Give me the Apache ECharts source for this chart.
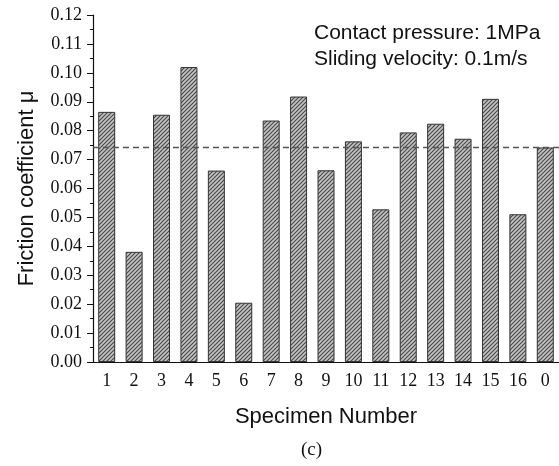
<!DOCTYPE html>
<html>
<head>
<meta charset="utf-8">
<script src="https://cdn.jsdelivr.net/npm/echarts@6/dist/echarts.min.js"></script>
<style>
  html, body { margin: 0; padding: 0; background: #fff; }
  #chart { width: 559px; height: 466px; }
</style>
</head>
<body>
<div id="chart"></div>
<script>
const specimens = ['1', '2', '3', '4', '5', '6', '7', '8', '9', '10', '11', '12', '13', '14', '15', '16', '0'];
const friction = [0.0865, 0.0381, 0.0855, 0.1020, 0.0662, 0.0205, 0.0835, 0.0918, 0.0663, 0.0763,
  0.0528, 0.0794, 0.0824, 0.0772, 0.0910, 0.0511, 0.0742];
const meanLine = 0.0742;
const yTicks = [0, 0.12, 0.01]; // min, max, interval
const noteLines = ['Contact pressure: 1MPa', 'Sliding velocity: 0.1m/s'];

// hatch pattern for the bars (////)
function makeHatch() {
  const c = document.createElement('canvas');
  c.width = 4;
  c.height = 4;
  const ctx = c.getContext('2d');
  ctx.fillStyle = '#c4c4c4';
  ctx.fillRect(0, 0, 4, 4);
  ctx.strokeStyle = '#4a4a4a';
  ctx.lineWidth = 1.2;
  ctx.beginPath();
  ctx.moveTo(0, 4);
  ctx.lineTo(4, 0);
  ctx.moveTo(-1, 1);
  ctx.lineTo(1, -1);
  ctx.moveTo(3, 5);
  ctx.lineTo(5, 3);
  ctx.stroke();
  return c;
}

const chart = echarts.init(document.getElementById('chart'));

chart.setOption({
  animation: false,
  grid: { left: 93, right: 0, top: 15, bottom: 104 },
  xAxis: {
    type: 'category',
    data: specimens,
    name: 'Specimen Number',
    nameLocation: 'middle',
    nameGap: 44,
    nameTextStyle: { fontFamily: 'Liberation Sans', fontSize: 22, color: '#111' },
    axisLine: { lineStyle: { color: '#111', width: 1.2 } },
    axisTick: { show: false },
    axisLabel: { fontFamily: 'Liberation Serif', fontSize: 18, color: '#111', margin: 10, interval: 0 }
  },
  yAxis: {
    type: 'value',
    min: yTicks[0],
    max: yTicks[1],
    interval: yTicks[2],
    name: 'Friction coefficient μ',
    nameLocation: 'middle',
    nameGap: 55,
    nameTextStyle: { fontFamily: 'Liberation Sans', fontSize: 22, color: '#111' },
    axisLine: { show: true, lineStyle: { color: '#111', width: 1.2 } },
    axisTick: { show: true, length: 6, lineStyle: { color: '#111' } },
    minorTick: { show: true, splitNumber: 2, length: 3, lineStyle: { color: '#111' } },
    splitLine: { show: false },
    axisLabel: {
      fontFamily: 'Liberation Serif',
      fontSize: 18,
      color: '#111',
      margin: 11,
      formatter: (v) => v.toFixed(2)
    }
  },
  series: [{
    type: 'bar',
    data: friction,
    barWidth: 17,
    itemStyle: {
      color: { image: makeHatch(), repeat: 'repeat' },
      borderColor: '#333',
      borderWidth: 1
    },
    markLine: {
      silent: true,
      precision: 4,
      symbol: ['none', 'none'],
      label: { show: false },
      lineStyle: { color: '#555', type: [6, 4], width: 1.4 },
      data: [{ yAxis: meanLine }]
    }
  }],
  graphic: [
    {
      type: 'text',
      left: 314,
      top: 20,
      style: {
        text: noteLines.join('\n'),
        font: '21px "Liberation Sans"',
        lineHeight: 26,
        fill: '#111'
      }
    },
    {
      type: 'text',
      left: 301,
      top: 441,
      style: {
        text: '(c)',
        font: '19px "Liberation Serif"',
        fill: '#111'
      }
    }
  ]
});
</script>
</body>
</html>
